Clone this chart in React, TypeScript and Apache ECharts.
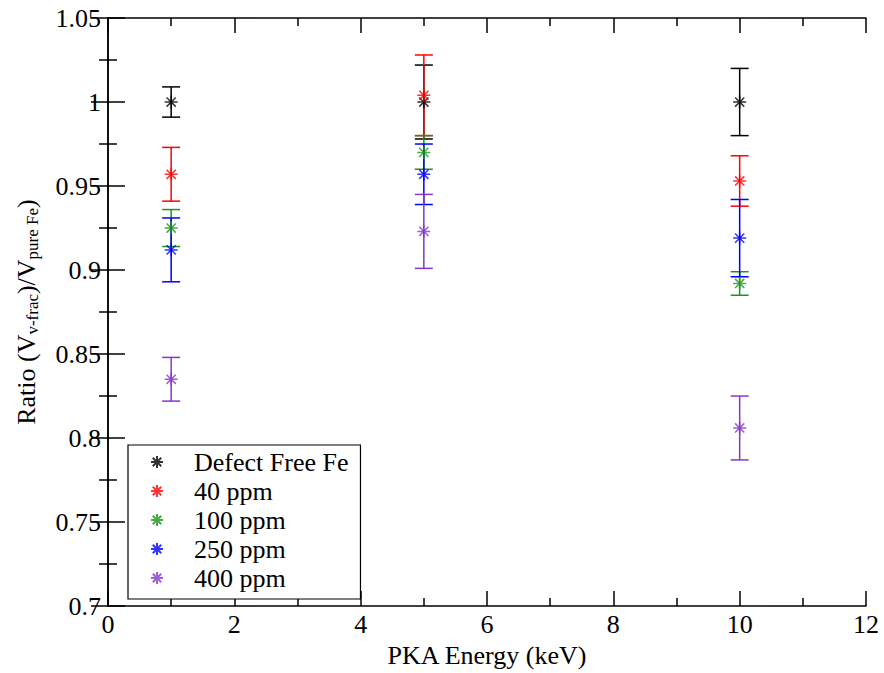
import React, { useEffect, useRef } from "react";
import * as echarts from "echarts";

const energies = [1, 5, 10];
const seriesNames = ["Defect Free Fe", "40 ppm", "100 ppm", "250 ppm", "400 ppm"];
const seriesColors = ["#000000", "#ff0000", "#1a961a", "#0000ff", "#8436cc"];

const defectFreeMean = [1.0, 1.0, 1.0];
const defectFreeErr = [0.009, 0.022, 0.02];
const ppm40Mean = [0.957, 1.004, 0.953];
const ppm40Err = [0.016, 0.024, 0.015];
const ppm100Mean = [0.925, 0.97, 0.892];
const ppm100Err = [0.011, 0.01, 0.007];
const ppm250Mean = [0.912, 0.957, 0.919];
const ppm250Err = [0.019, 0.018, 0.023];
const ppm400Mean = [0.835, 0.923, 0.806];
const ppm400Err = [0.013, 0.022, 0.019];

const means = [defectFreeMean, ppm40Mean, ppm100Mean, ppm250Mean, ppm400Mean];
const errs = [defectFreeErr, ppm40Err, ppm100Err, ppm250Err, ppm400Err];

const xTicks = { min: 0, max: 12, interval: 2 };
const yTicks = { min: 0.7, max: 1.05, interval: 0.05 };

const FONT = "Liberation Serif, Times New Roman, serif";
const STAR = "path://M0,-6L0,6M-6,0L6,0M-4.24,-4.24L4.24,4.24M-4.24,4.24L4.24,-4.24";

export default function App() {
  const ref = useRef<HTMLDivElement>(null);
  useEffect(() => {
    if (!ref.current) return;
    const chart = echarts.init(ref.current, undefined, { renderer: "svg" });
    const series: any[] = [];
    seriesNames.forEach((name, i) => {
      const color = seriesColors[i];
      series.push({
        type: "custom",
        name: name + " error",
        data: energies.map((x, j) => [x, means[i][j] - errs[i][j], means[i][j] + errs[i][j]]),
        encode: { x: 0, y: [1, 2] },
        renderItem: (params: any, api: any) => {
          const lo = api.coord([api.value(0), api.value(1)]);
          const hi = api.coord([api.value(0), api.value(2)]);
          const hw = 9;
          const style = { stroke: color, lineWidth: 1.5, fill: "none" };
          return {
            type: "group",
            children: [
              { type: "line", shape: { x1: lo[0], y1: lo[1], x2: hi[0], y2: hi[1] }, style },
              { type: "line", shape: { x1: lo[0] - hw, y1: lo[1], x2: lo[0] + hw, y2: lo[1] }, style },
              { type: "line", shape: { x1: hi[0] - hw, y1: hi[1], x2: hi[0] + hw, y2: hi[1] }, style },
            ],
          };
        },
        silent: true,
      });
      series.push({
        type: "scatter",
        name,
        data: energies.map((x, j) => [x, means[i][j]]),
        symbol: STAR,
        symbolSize: 13,
        itemStyle: { color: color, borderColor: color, borderWidth: 1.5 },
      });
    });

    const axisLine = { show: true, lineStyle: { color: "#000", width: 1.5 } };
    const xBase = {
      type: "value",
      ...xTicks,
      splitLine: { show: false },
      axisLine,
      axisTick: { show: true, inside: true, length: 15, lineStyle: { color: "#000", width: 1.5 } },
      minorTick: { show: true, splitNumber: 2, length: 8, lineStyle: { color: "#000", width: 1.5 } },
      minorSplitLine: { show: false },
    };
    const yBase = {
      type: "value",
      ...yTicks,
      splitLine: { show: false },
      axisLine,
      axisTick: { show: true, inside: true, length: 17, lineStyle: { color: "#000", width: 1.5 } },
      minorTick: { show: true, splitNumber: 2, length: 9, lineStyle: { color: "#000", width: 1.5 } },
      minorSplitLine: { show: false },
    };

    chart.setOption({
      animation: false,
      backgroundColor: "#fff",
      textStyle: { fontFamily: FONT },
      grid: { left: 108, right: 18, top: 18, bottom: 57, containLabel: false },
      legend: {
        data: seriesNames,
        orient: "vertical",
        left: 128,
        top: 445,
        itemWidth: 12,
        itemHeight: 12,
        itemGap: 3,
        padding: [4, 12, 8, 22],
        borderColor: "#000",
        borderWidth: 1.2,
        backgroundColor: "#fff",
        textStyle: { fontFamily: FONT, fontSize: 26, color: "#000", lineHeight: 26, padding: [0, 0, 0, 26] },
        selectedMode: false,
      },
      xAxis: [
        {
          ...xBase,
          position: "bottom",
          name: "PKA Energy (keV)",
          nameLocation: "middle",
          nameGap: 21,
          nameTextStyle: { fontFamily: FONT, fontSize: 26, color: "#000", verticalAlign: "top", lineHeight: 26 },
          axisLabel: { show: true, margin: 5, fontFamily: FONT, fontSize: 26, color: "#000" },
        },
        { ...xBase, position: "top", axisLabel: { show: false } },
      ],
      yAxis: [
        {
          ...yBase,
          position: "left",
          name: "{a|Ratio (V}{s|v-frac}{a|)/V}{s|pure Fe}{a|)}",
          nameLocation: "middle",
          nameGap: 67,
          nameTextStyle: {
            fontFamily: FONT,
            color: "#000",
            rich: {
              a: { fontFamily: FONT, fontSize: 26, lineHeight: 28, verticalAlign: "top", color: "#000" },
              s: { fontFamily: FONT, fontSize: 17, lineHeight: 18, verticalAlign: "bottom", padding: [16, 0, 0, 0], color: "#000" },
            },
          },
          axisLabel: {
            show: true,
            margin: 7,
            fontFamily: FONT,
            fontSize: 26,
            color: "#000",
            formatter: (v: number) => String(+v.toFixed(2)),
          },
        },
        { ...yBase, position: "right", axisLabel: { show: false } },
      ],
      series,
    });
    return () => chart.dispose();
  }, []);
  return (
    <div
      ref={ref}
      style={{ position: "fixed", left: 0, top: 0, width: 884, height: 673, background: "#fff" }}
    />
  );
}
